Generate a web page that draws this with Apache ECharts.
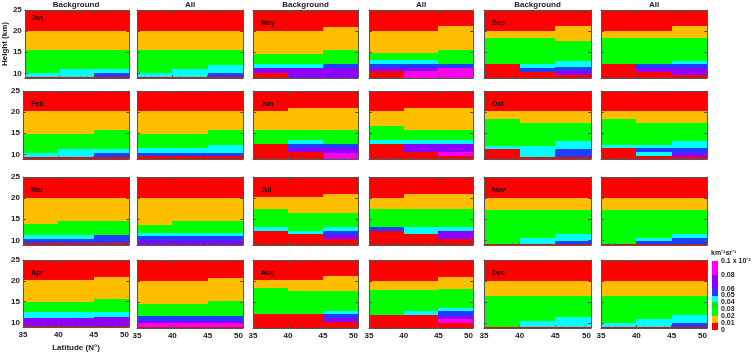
<!DOCTYPE html>
<html>
<head>
<meta charset="utf-8">
<script src="https://cdn.jsdelivr.net/npm/echarts@6/dist/echarts.min.js"></script>
<style>
  html, body { margin: 0; background: #fff; }
  #chart { width: 754px; height: 353px; }
</style>
</head>
<body>
<div id="chart"></div>
<script>
// latitude bin edges and height range (km)
const latEdges = [35, 40, 45, 50]
const hMin = 8.9
const hMax = 25
const latTicks = [35, 40, 45, 50]
const heightTicks = [10, 15, 20, 25]

// colour classes: 0-0.01, 0.01-0.02, 0.02-0.03, 0.03-0.04, 0.04-0.05, 0.05-0.06, 0.06-0.08, 0.08-0.1
const levelColors = ['#ff0000', '#ffbf00', '#00ff00', '#00f000', '#00ffff', '#1f3cff', '#8c00ff', '#ff00ee']
const cbEdges = [0, 0.01, 0.02, 0.03, 0.04, 0.05, 0.06, 0.08, 0.1]
const cbTickValues = [0, 0.01, 0.02, 0.03, 0.04, 0.05, 0.06, 0.08, 0.1]

// each panel: 3 latitude bins, each a list of [top height, class] from the bottom up
const janBg = [[[9.2,0],[10.2,4],[15.5,2],[20.1,1],[25,0]], [[9.2,0],[11.1,4],[15.5,2],[20.1,1],[25,0]], [[9.2,0],[10.2,5],[11.1,4],[15.5,2],[20.1,1],[25,0]]]
const janAll = [[[9.2,0],[10.2,4],[15.5,2],[20.1,1],[25,0]], [[9.2,0],[11.1,4],[15.5,2],[20.1,1],[25,0]], [[9.2,0],[10.2,5],[12.0,4],[15.5,2],[20.1,1],[25,0]]]
const febBg = [[[9.3,0],[10.4,4],[14.8,2],[20.2,1],[25,0]], [[9.3,0],[11.3,4],[14.8,2],[20.2,1],[25,0]], [[9.3,0],[10.4,5],[11.3,4],[15.7,2],[20.2,1],[25,0]]]
const febAll = [[[9.5,0],[10.4,5],[11.4,4],[14.8,2],[20.2,1],[25,0]], [[9.5,0],[10.4,5],[11.4,4],[14.8,2],[20.2,1],[25,0]], [[9.5,0],[10.4,5],[12.3,4],[15.7,2],[20.2,1],[25,0]]]
const marBg = [[[9.45,0],[10.4,5],[11.3,4],[13.8,2],[20.1,1],[25,0]], [[9.45,0],[10.4,5],[11.3,4],[14.7,2],[20.1,1],[25,0]], [[9.45,0],[11.3,5],[14.7,2],[20.1,1],[25,0]]]
const marAll = [[[9.9,6],[10.95,5],[11.8,4],[13.6,2],[20.1,1],[25,0]], [[9.9,6],[10.95,5],[11.8,4],[14.5,2],[20.1,1],[25,0]], [[9.9,6],[10.95,5],[11.8,4],[14.5,2],[20.1,1],[25,0]]]
const aprBg = [[[9.2,0],[11.0,6],[12.4,4],[14.8,2],[20.2,1],[25,0]], [[9.2,0],[11.0,6],[12.4,4],[14.8,2],[20.2,1],[25,0]], [[9.2,0],[11.4,6],[12.4,4],[15.6,2],[21.0,1],[25,0]]]
const aprAll = [[[9.2,0],[10.0,7],[10.6,6],[11.8,5],[14.5,2],[20.05,1],[25,0]], [[9.2,0],[10.0,7],[10.6,6],[11.8,5],[14.5,2],[20.05,1],[25,0]], [[9.2,0],[10.0,7],[10.6,6],[11.8,5],[15.3,2],[20.85,1],[25,0]]]
const mayBg = [[[10.2,0],[11.2,6],[12.1,4],[14.5,2],[20.1,1],[25,0]], [[11.2,6],[12.1,4],[14.5,2],[20.1,1],[25,0]], [[11.2,6],[12.1,5],[15.5,2],[21.0,1],[25,0]]]
const mayAll = [[[10.5,0],[11.3,6],[12.3,5],[13.1,4],[14.9,2],[20.1,1],[25,0]], [[10.5,7],[11.3,6],[12.3,5],[13.1,4],[14.9,2],[20.1,1],[25,0]], [[11.3,7],[12.3,5],[15.6,2],[21.1,1],[25,0]]]
const junBg = [[[12.4,0],[15.8,2],[20.3,1],[25,0]], [[10.6,0],[11.4,6],[12.4,5],[13.3,4],[15.8,2],[21.05,1],[25,0]], [[10.4,7],[11.4,6],[12.4,5],[15.8,2],[21.05,1],[25,0]]]
const junAll = [[[12.4,0],[13.3,4],[16.7,2],[20.3,1],[25,0]], [[10.6,0],[12.4,6],[13.3,4],[15.8,2],[21.05,1],[25,0]], [[9.6,0],[10.6,7],[12.4,6],[13.3,4],[15.8,2],[21.05,1],[25,0]]]
const julBg = [[[12.2,0],[13.2,4],[17.5,2],[20.3,1],[25,0]], [[11.4,0],[12.2,4],[16.55,2],[20.3,1],[25,0]], [[10.4,0],[11.3,6],[12.2,5],[13.2,4],[16.55,2],[21.05,1],[25,0]]]
const julAll = [[[12.2,0],[13.2,5],[17.5,2],[20.1,1],[25,0]], [[11.4,0],[13.2,4],[17.5,2],[21.05,1],[25,0]], [[10.4,0],[12.2,6],[13.2,4],[17.5,2],[21.05,1],[25,0]]]
const augBg = [[[12.2,0],[18.4,2],[20.2,1],[25,0]], [[12.2,0],[17.6,2],[20.2,1],[25,0]], [[10.35,0],[11.25,6],[12.2,5],[13.0,4],[17.6,2],[21.2,1],[25,0]]]
const augAll = [[[12.05,0],[18.0,2],[20.05,1],[25,0]], [[12.05,0],[12.85,4],[18.0,2],[20.05,1],[25,0]], [[10.05,0],[11.0,7],[11.8,6],[12.85,5],[13.6,4],[18.2,2],[21.0,1],[25,0]]]
const sepBg = [[[12.1,0],[18.4,2],[20.1,1],[25,0]], [[10.4,0],[11.2,5],[12.1,4],[18.4,2],[20.1,1],[25,0]], [[9.6,0],[10.5,6],[11.5,5],[13.0,4],[17.6,2],[21.1,1],[25,0]]]
const sepAll = [[[12.1,0],[18.4,2],[20.1,1],[25,0]], [[10.4,0],[11.2,6],[12.1,5],[18.4,2],[20.1,1],[25,0]], [[9.5,0],[11.2,6],[12.1,5],[13.0,4],[18.4,2],[21.1,1],[25,0]]]
const octBg = [[[11.2,0],[12.0,4],[18.3,2],[20.2,1],[25,0]], [[9.4,0],[12.0,4],[17.4,2],[20.2,1],[25,0]], [[9.4,0],[11.2,5],[13.05,4],[17.4,2],[20.2,1],[25,0]]]
const octAll = [[[11.45,0],[12.25,4],[18.3,2],[20.25,1],[25,0]], [[9.6,0],[10.6,4],[11.45,5],[12.25,4],[17.5,2],[20.25,1],[25,0]], [[9.4,0],[10.4,6],[11.45,5],[13.05,4],[17.5,2],[20.25,1],[25,0]]]
const novBg = [[[9.2,0],[17.3,2],[20.1,1],[25,0]], [[9.2,0],[10.6,4],[17.3,2],[20.1,1],[25,0]], [[9.2,0],[9.9,5],[11.4,4],[17.3,2],[20.1,1],[25,0]]]
const novAll = [[[9.2,0],[17.3,2],[20.1,1],[25,0]], [[9.2,0],[9.85,5],[10.6,4],[17.3,2],[20.1,1],[25,0]], [[9.2,0],[10.6,5],[11.4,4],[17.3,2],[20.1,1],[25,0]]]
const decBg = [[[9.2,0],[16.4,2],[20.05,1],[25,0]], [[9.2,0],[10.6,4],[16.4,2],[20.05,1],[25,0]], [[9.2,0],[11.55,4],[16.4,2],[20.05,1],[25,0]]]
const decAll = [[[9.2,0],[10.0,4],[16.4,2],[20.05,1],[25,0]], [[9.2,0],[11.0,4],[16.4,2],[20.05,1],[25,0]], [[9.2,0],[10.0,5],[12.0,4],[16.4,2],[20.05,1],[25,0]]]

const panels = [
  [janBg, janAll, mayBg, mayAll, sepBg, sepAll],
  [febBg, febAll, junBg, junAll, octBg, octAll],
  [marBg, marAll, julBg, julAll, novBg, novAll],
  [aprBg, aprAll, augBg, augAll, decBg, decAll],
]
const months = [
  ['Jan', 'May', 'Sep'],
  ['Feb', 'Jun', 'Oct'],
  ['Mar', 'Jul', 'Nov'],
  ['Apr', 'Aug', 'Dec'],
]
const colTitles = ['Background', 'All', 'Background', 'All', 'Background', 'All']

// layout
const colLeft = [23, 137, 253, 369, 484, 601]
const colWidth = [106, 106, 105, 104, 107, 106]
const rowTop = [10, 91, 177, 260]
const rowHeight = 68
const fontFamily = '"Liberation Sans", Arial, sans-serif'
const boldFont = 'bold 8px ' + fontFamily
const labelStyle = { color: '#222', fontSize: 8, fontWeight: 'bold', fontFamily }

const toRects = (bins) => {
  const out = []
  bins.forEach((segs, b) => {
    let lo = hMin
    segs.forEach(([top, lev]) => {
      out.push([latEdges[b], latEdges[b + 1], lo, top, lev])
      lo = top
    })
  })
  return out
}

const renderRect = (params, api) => {
  const p0 = api.coord([api.value(0), api.value(3)])
  const p1 = api.coord([api.value(1), api.value(2)])
  const x0 = Math.round(p0[0]), x1 = Math.round(p1[0])
  const y0 = Math.round(p0[1]), y1 = Math.round(p1[1])
  return {
    type: 'rect',
    shape: { x: x0, y: y0, width: x1 - x0, height: y1 - y0 },
    style: { fill: levelColors[api.value(4)] },
  }
}

const grid = [], xAxis = [], yAxis = [], series = [], graphic = []
const axisColor = '#555'

panels.forEach((row, r) => {
  row.forEach((bins, c) => {
    const gi = grid.length
    grid.push({ left: colLeft[c], top: rowTop[r], width: colWidth[c], height: rowHeight })
    const lastRow = r === panels.length - 1
    const firstCol = c === 0
    const xBase = {
      type: 'value', gridIndex: gi, min: latEdges[0], max: latEdges[3], interval: 5, z: 5,
      axisLine: { show: true, lineStyle: { color: axisColor, width: 1 } },
      axisTick: { show: true, inside: true, length: 3, lineStyle: { color: axisColor } },
      minorTick: { show: true, splitNumber: 5, length: 1.5, lineStyle: { color: axisColor } },
      splitLine: { show: false },
    }
    xAxis.push(Object.assign({}, xBase, {
      position: 'bottom',
      axisLabel: Object.assign({ show: lastRow, customValues: latTicks, margin: 4, alignMaxLabel: 'right' }, labelStyle),
      name: lastRow && firstCol ? 'Latitude (N°)' : '',
      nameLocation: 'middle', nameGap: 17,
      nameTextStyle: labelStyle,
    }))
    xAxis.push(Object.assign({}, xBase, { position: 'top', axisLabel: { show: false } }))
    const yBase = {
      type: 'value', gridIndex: gi, min: hMin, max: hMax, z: 5,
      axisLine: { show: true, lineStyle: { color: axisColor, width: 1 } },
      axisTick: { show: true, inside: true, length: 3, customValues: heightTicks, lineStyle: { color: axisColor } },
      splitLine: { show: false },
    }
    yAxis.push(Object.assign({}, yBase, {
      position: 'left',
      axisLabel: Object.assign({ show: firstCol, customValues: heightTicks, margin: 3 }, labelStyle),
      name: r === 0 && firstCol ? 'Height (km)' : '',
      nameLocation: 'middle', nameGap: 14,
      nameTextStyle: labelStyle,
    }))
    yAxis.push(Object.assign({}, yBase, { position: 'right', axisLabel: { show: false } }))
    series.push({
      type: 'custom',
      xAxisIndex: gi * 2,
      yAxisIndex: gi * 2,
      encode: { x: [0, 1], y: [2, 3] },
      renderItem: renderRect,
      data: toRects(bins),
      silent: true,
    })
    if (c % 2 === 0) {
      graphic.push({
        type: 'text', x: colLeft[c] + 8, y: rowTop[r] + (r === 0 && c === 0 ? 8 : 13), z: 10,
        style: { text: months[r][c / 2], font: 'bold 7px ' + fontFamily, fill: '#111', textVerticalAlign: 'middle' },
      })
    }
    if (r === 0) {
      graphic.push({
        type: 'text', x: colLeft[c] + colWidth[c] / 2, y: 5, z: 10,
        style: { text: colTitles[c], font: boldFont, fill: '#222', textAlign: 'center', textVerticalAlign: 'middle' },
      })
    }
  })
})

// colour bar
const cbi = grid.length
grid.push({ left: 712, top: 261, width: 6, height: 69 })
xAxis.push({ type: 'value', gridIndex: cbi, min: 0, max: 1, show: false })
yAxis.push({
  type: 'value', gridIndex: cbi, min: 0, max: 0.1, position: 'right',
  axisLine: { show: false },
  axisTick: { show: false },
  splitLine: { show: false },
  axisLabel: {
    customValues: cbTickValues, margin: 3, color: '#222',
    fontSize: 7, fontWeight: 'bold', fontFamily,
    formatter: (v) => (v === 0.1 ? '0.1 x 10⁻³' : String(+v.toFixed(2))),
  },
})
series.push({
  type: 'custom',
  xAxisIndex: xAxis.length - 1,
  yAxisIndex: yAxis.length - 1,
  encode: { x: [0, 1], y: [2, 3] },
  renderItem: renderRect,
  data: levelColors.map((col, i) => [0, 1, cbEdges[i], cbEdges[i + 1], i]),
  silent: true,
})
graphic.push({
  type: 'text', x: 711, y: 253, z: 10,
  style: { text: 'km⁻¹sr⁻¹', font: 'bold 7px ' + fontFamily, fill: '#222', textVerticalAlign: 'middle' },
})

const myChart = echarts.init(document.getElementById('chart'))
myChart.setOption({
  animation: false,
  backgroundColor: '#fff',
  grid, xAxis, yAxis, series, graphic,
})
</script>
</body>
</html>
